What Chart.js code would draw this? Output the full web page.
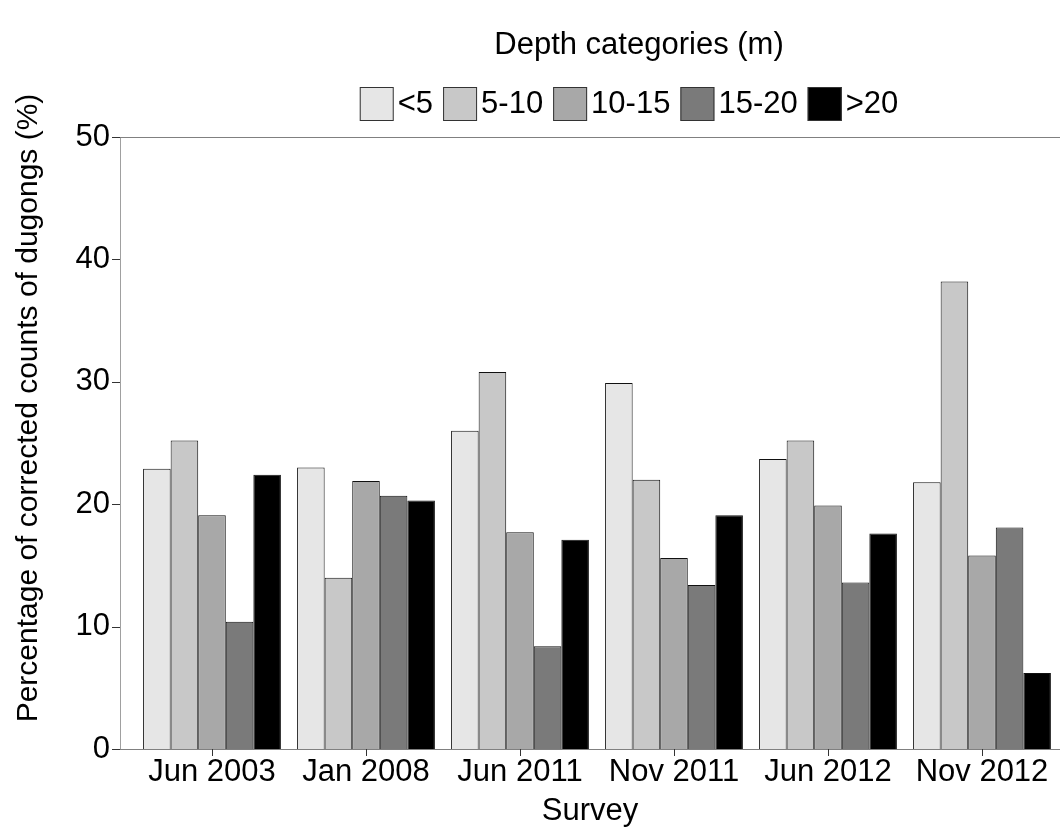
<!DOCTYPE html>
<html>
<head>
<meta charset="utf-8">
<script src="https://cdn.jsdelivr.net/npm/chart.js@4/dist/chart.umd.min.js"></script>
<style>
  html, body { margin: 0; padding: 0; background: #fff; }
  #wrap { width: 1060px; height: 834px; }
</style>
</head>
<body>
<div id="wrap"><canvas id="grafico"></canvas></div>
<script>
// Dados
var surveys = ['Jun 2003', 'Jan 2008', 'Jun 2011', 'Nov 2011', 'Jun 2012', 'Nov 2012'];
var depthLabels = ['<5', '5-10', '10-15', '15-20', '>20'];
var depthColors = ['#e6e6e6', '#c8c8c8', '#a8a8a8', '#7a7a7a', '#000000'];

var depthLt5 = [22.9, 23.0, 26.0, 29.9, 23.7, 21.8];
var depth5to10 = [25.2, 14.0, 30.8, 22.0, 25.2, 38.2];
var depth10to15 = [19.1, 21.9, 17.7, 15.6, 19.9, 15.8];
var depth15to20 = [10.4, 20.7, 8.4, 13.4, 13.6, 18.1];
var depthGt20 = [22.4, 20.3, 17.1, 19.1, 17.6, 6.2];

var yTicks = [0, 10, 20, 30, 40, 50];

var fonte = "'Liberation Sans', Arial, sans-serif";

var series = [depthLt5, depth5to10, depth10to15, depth15to20, depthGt20];
var datasets = series.map(function (valores, i) {
    return {
        label: depthLabels[i],
        data: valores,
        backgroundColor: depthColors[i],
        borderColor: '#111',
        borderWidth: 1,
        categoryPercentage: 0.895,
        barPercentage: 1.0
    };
});

// Eixos, legenda e títulos desenhados à mão
var decoracao = {
    id: 'decoracao',
    afterDraw: function (chart) {
        var ctx = chart.ctx;
        var area = chart.chartArea;
        var sy = chart.scales.y;
        var sx = chart.scales.x;
        var ax = area.left - 15;
        ctx.save();

        // linhas dos eixos
        ctx.lineWidth = 1;
        ctx.strokeStyle = '#a0a0a0';
        ctx.beginPath();
        ctx.moveTo(ax + 0.5, area.top);
        ctx.lineTo(ax + 0.5, area.bottom);
        ctx.stroke();
        ctx.strokeStyle = '#808080';
        ctx.beginPath();
        ctx.moveTo(ax, Math.round(area.top) + 0.5);
        ctx.lineTo(chart.width, Math.round(area.top) + 0.5);
        ctx.moveTo(ax, Math.round(area.bottom) + 0.5);
        ctx.lineTo(chart.width, Math.round(area.bottom) + 0.5);
        ctx.stroke();

        // marcas dos ticks
        ctx.strokeStyle = '#333';
        ctx.beginPath();
        yTicks.forEach(function (v) {
            var py = Math.round(sy.getPixelForValue(v)) + 0.5;
            ctx.moveTo(ax - 8, py);
            ctx.lineTo(ax, py);
        });
        surveys.forEach(function (s, i) {
            var px = Math.round(sx.getPixelForTick(i)) + 0.5;
            ctx.moveTo(px, area.bottom);
            ctx.lineTo(px, area.bottom + 7);
        });
        ctx.stroke();

        // título do eixo y
        ctx.fillStyle = '#000';
        ctx.font = '30px ' + fonte;
        ctx.textAlign = 'center';
        ctx.textBaseline = 'middle';
        ctx.save();
        ctx.translate(29, 408);
        ctx.rotate(-Math.PI / 2);
        ctx.fillText('Percentage of corrected counts of dugongs (%)', 0, 0);
        ctx.restore();

        // título do eixo x
        ctx.font = '31px ' + fonte;
        ctx.fillText('Survey', 590, 811);

        // legenda
        ctx.fillText('Depth categories (m)', 639, 45);
        var box = 34, gap = 4, sep = 10;
        var total = 0;
        chart.data.datasets.forEach(function (d, i) {
            total += box + gap + ctx.measureText(d.label).width;
            if (i < chart.data.datasets.length - 1) total += sep;
        });
        var x = 629 - total / 2;
        ctx.textAlign = 'left';
        chart.data.datasets.forEach(function (d) {
            ctx.fillStyle = d.backgroundColor;
            ctx.fillRect(x, 87, box, box);
            ctx.strokeStyle = '#333';
            ctx.strokeRect(x + 0.5, 87.5, box - 1, box - 1);
            x += box + gap;
            ctx.fillStyle = '#000';
            ctx.fillText(d.label, x, 104);
            x += ctx.measureText(d.label).width + sep;
        });
        ctx.restore();
    }
};

function inicializarGrafico() {
    new Chart(document.getElementById('grafico').getContext('2d'), {
        type: 'bar',
        data: {
            labels: surveys,
            datasets: datasets
        },
        options: {
            responsive: true,
            maintainAspectRatio: false,
            animation: false,
            layout: {
                padding: { top: 137, right: 1, bottom: 0, left: 0 }
            },
            plugins: {
                legend: { display: false },
                title: { display: false },
                tooltip: { enabled: false }
            },
            scales: {
                x: {
                    grid: { display: false, drawTicks: false },
                    border: { display: false },
                    ticks: {
                        color: '#000',
                        padding: 5,
                        maxRotation: 0,
                        font: { family: fonte, size: 31 }
                    },
                    afterFit: function (scale) { scale.height = 85; }
                },
                y: {
                    min: 0,
                    max: 50,
                    grid: { display: false, drawTicks: false },
                    border: { display: false },
                    ticks: {
                        color: '#000',
                        stepSize: 10,
                        padding: 25,
                        font: { family: fonte, size: 31 }
                    },
                    afterFit: function (scale) { scale.width = 135; }
                }
            }
        },
        plugins: [decoracao]
    });
}

window.onload = inicializarGrafico;
</script>
</body>
</html>
